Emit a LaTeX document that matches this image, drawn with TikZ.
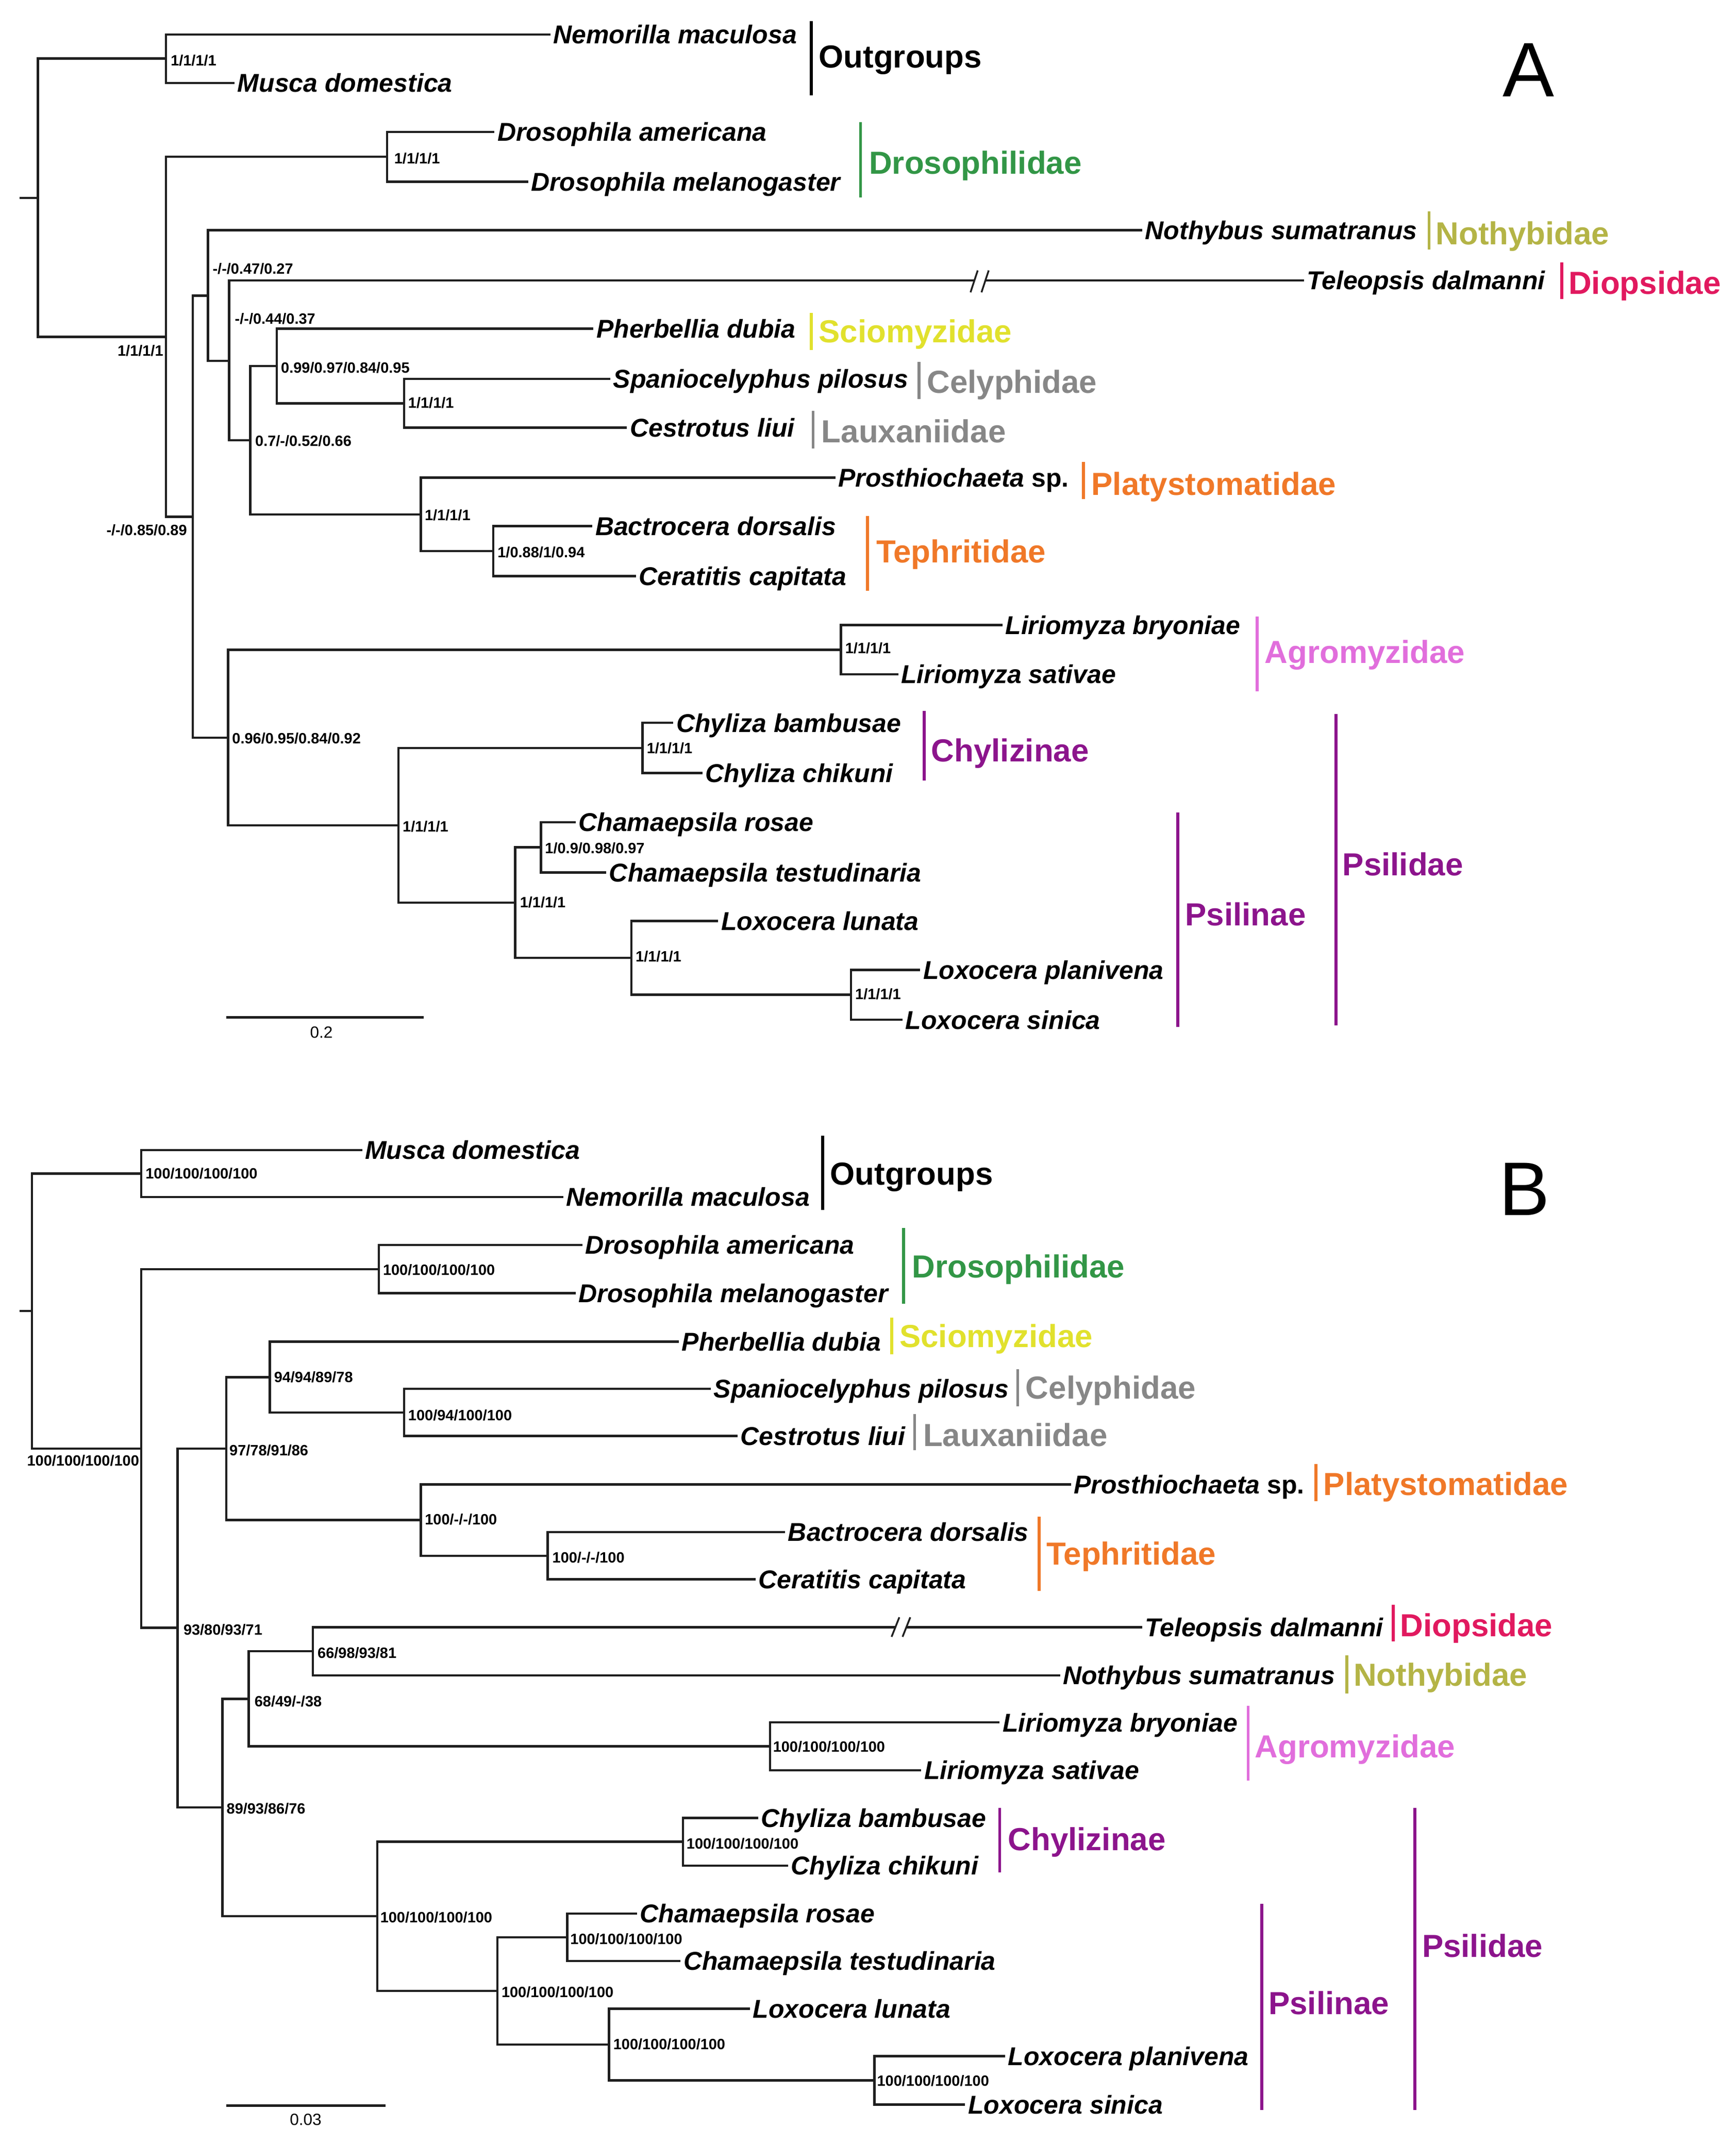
\documentclass[tikz,border=0pt]{standalone}
\usepackage{fontspec}
\setmainfont{Liberation Sans}
\definecolor{treecol}{RGB}{30,30,30}
\definecolor{grn}{RGB}{50,150,70}
\definecolor{oli}{RGB}{180,180,70}
\definecolor{crim}{RGB}{225,25,95}
\definecolor{yel}{RGB}{225,225,45}
\definecolor{gry}{RGB}{135,135,135}
\definecolor{org}{RGB}{240,120,40}
\definecolor{orch}{RGB}{225,110,220}
\definecolor{pur}{RGB}{140,20,140}
\newcommand{\mktip}[4]{\coordinate (#1) at (#2,#3); \node[taxon] (#1-l) at ([shift={(2,6.8)}]#1) {#4};}
\newcommand{\mklab}[4]{\node[nlab] (#1) at (#2,#3) {#4};}
\newcommand{\mkgrp}[8]{\coordinate (#1-a) at (#3,#4); \coordinate (#1-b) at (#3,#5); \draw[gbar,draw=#2] (#1-a) -- (#1-b); \node[grp,text=#2] (#1) at (#6,#7) {#8};}
\begin{document}
\begin{tikzpicture}[x=1pt,y=-1pt,
  br/.style={line width=1.7pt, draw=treecol},
  brk/.style={line width=1.3pt, draw=treecol},
  gbar/.style={line width=2.2pt},
  taxon/.style={anchor=base west, inner sep=0pt, font=\fontsize{19}{19}\selectfont\bfseries\itshape},
  nlab/.style={anchor=base west, inner sep=0pt, yshift=-3.9pt, font=\fontsize{11}{11}\selectfont\bfseries},
  grp/.style={anchor=base west, inner sep=0pt, yshift=-8.4pt, font=\fontsize{23.5}{23.5}\selectfont\bfseries},
  slab/.style={inner sep=0pt, font=\fontsize{12}{12}\selectfont}]
\fill[white] (0,0) rectangle (1280,1579.9);
\useasboundingbox (0,0) rectangle (1280,1579.9);

%% ================= PANEL A =================
\coordinate (rA0) at (14.4,145.9);
\coordinate (rA) at (28,145.9);
\coordinate (aOut) at (122.4,43.2);
\coordinate (aIng) at (122.4,248.4);
\coordinate (aDro) at (285.5,115.6);
\coordinate (a1) at (142.2,381);
\coordinate (a2) at (153.3,218);
\coordinate (a3) at (169,266);
\coordinate (a4) at (184.6,324.6);
\coordinate (a5) at (204,269.8);
\coordinate (a6) at (297.9,297.3);
\coordinate (a7) at (310.3,379.3);
\coordinate (a8) at (363.8,406.3);
\coordinate (a9) at (168.1,543.9);
\coordinate (aAgr) at (620.1,479);
\coordinate (aPs) at (293.8,608.5);
\coordinate (aChy) at (473.8,551.4);
\coordinate (aPs2) at (379.9,665.4);
\coordinate (aCha) at (398.8,624.7);
\coordinate (aLox) at (465.6,706.2);
\coordinate (aLox2) at (627.5,733.4);
\coordinate (brkA1) at (718.2,206.7);
\coordinate (brkA2) at (726.4,206.7);

\mktip{tNem}{405.8}{25.4}{Nemorilla maculosa}
\mktip{tMus}{173}{61.1}{Musca domestica}
\mktip{tDam}{364.6}{97.2}{Drosophila americana}
\mktip{tDme}{389.4}{134}{Drosophila melanogaster}
\mktip{tNot}{842.2}{169.7}{Nothybus sumatranus}
\mktip{tTel}{961.5}{206.7}{Teleopsis dalmanni}
\mktip{tPhe}{437.6}{242.3}{Pherbellia dubia}
\mktip{tSpa}{450}{279.3}{Spaniocelyphus pilosus}
\mktip{tCes}{462.3}{315.3}{Cestrotus liui}
\mktip{tPro}{616}{352.1}{Prosthiochaeta \textup{sp.}}
\mktip{tBac}{436.8}{387.9}{Bactrocera dorsalis}
\mktip{tCer}{468.9}{424.7}{Ceratitis capitata}
\mktip{tLbr}{739.1}{460.8}{Liriomyza bryoniae}
\mktip{tLsa}{662.3}{497.1}{Liriomyza sativae}
\mktip{tCba}{496.5}{532.9}{Chyliza bambusae}
\mktip{tCch}{518}{569.8}{Chyliza chikuni}
\mktip{tCro}{424.4}{606.2}{Chamaepsila rosae}
\mktip{tCte}{447}{643.2}{Chamaepsila testudinaria}
\mktip{tLlu}{529.5}{678.9}{Loxocera lunata}
\mktip{tLpl}{678.5}{715}{Loxocera planivena}
\mktip{tLsi}{665.5}{751.8}{Loxocera sinica}

\draw[br] (rA0) -- (rA);
\draw[br] (rA) |- (aOut);
\draw[br] (rA) |- (aIng);
\draw[br] (aOut) |- (tNem);
\draw[br] (aOut) |- (tMus);
\draw[br] (aIng) |- (aDro);
\draw[br] (aIng) |- (a1);
\draw[br] (aDro) |- (tDam);
\draw[br] (aDro) |- (tDme);
\draw[br] (a1) |- (a2);
\draw[br] (a1) |- (a9);
\draw[br] (a2) |- (tNot);
\draw[br] (a2) |- (a3);
\draw[br] (a3) |- (brkA1);
\draw[br] (brkA2) -- (tTel);
\draw[brk] (715.6,215.5) -- (720.9,199.4);
\draw[brk] (723.7,215.5) -- (729,199.4);
\draw[br] (a3) |- (a4);
\draw[br] (a4) |- (a5);
\draw[br] (a4) |- (a7);
\draw[br] (a5) |- (tPhe);
\draw[br] (a5) |- (a6);
\draw[br] (a6) |- (tSpa);
\draw[br] (a6) |- (tCes);
\draw[br] (a7) |- (tPro);
\draw[br] (a7) |- (a8);
\draw[br] (a8) |- (tBac);
\draw[br] (a8) |- (tCer);
\draw[br] (a9) |- (aAgr);
\draw[br] (a9) |- (aPs);
\draw[br] (aAgr) |- (tLbr);
\draw[br] (aAgr) |- (tLsa);
\draw[br] (aPs) |- (aChy);
\draw[br] (aPs) |- (aPs2);
\draw[br] (aChy) |- (tCba);
\draw[br] (aChy) |- (tCch);
\draw[br] (aPs2) |- (aCha);
\draw[br] (aPs2) |- (aLox);
\draw[br] (aCha) |- (tCro);
\draw[br] (aCha) |- (tCte);
\draw[br] (aLox) |- (tLlu);
\draw[br] (aLox) |- (aLox2);
\draw[br] (aLox2) |- (tLpl);
\draw[br] (aLox2) |- (tLsi);

\mklab{la1}{125.7}{44.5}{1/1/1/1}
\mklab{la2}{86.5}{258.7}{1/1/1/1}
\mklab{la3}{290.5}{116.7}{1/1/1/1}
\mklab{la4}{156.6}{198}{-/-/0.47/0.27}
\mklab{la5}{173}{235}{-/-/0.44/0.37}
\mklab{la6}{207}{271}{0.99/0.97/0.84/0.95}
\mklab{la7}{300.8}{297.1}{1/1/1/1}
\mklab{la8}{188}{325}{0.7/-/0.52/0.66}
\mklab{la9}{313}{379.7}{1/1/1/1}
\mklab{la10}{366.7}{407.2}{1/0.88/1/0.94}
\mklab{la11}{78.3}{390.8}{-/-/0.85/0.89}
\mklab{la12}{623}{478}{1/1/1/1}
\mklab{la13}{171}{544.3}{0.96/0.95/0.84/0.92}
\mklab{la14}{296.7}{609.3}{1/1/1/1}
\mklab{la15}{476.7}{551.6}{1/1/1/1}
\mklab{la16}{383.2}{665.3}{1/1/1/1}
\mklab{la17}{401.7}{625.1}{1/0.9/0.98/0.97}
\mklab{la18}{468.5}{705.2}{1/1/1/1}
\mklab{la19}{630.4}{733}{1/1/1/1}

\mkgrp{gA1}{black}{598.3}{15.6}{70.4}{603.6}{41.6}{Outgroups}
\mkgrp{gA2}{grn}{634.5}{90}{145.6}{640.7}{120}{Drosophilidae}
\mkgrp{gA3}{oli}{1053.7}{156}{184}{1058.5}{172}{Nothybidae}
\mkgrp{gA4}{crim}{1151.6}{193.4}{220.6}{1156.4}{208.5}{Diopsidae}
\mkgrp{gA5}{yel}{598.3}{230.7}{257.9}{603.6}{244.3}{Sciomyzidae}
\mkgrp{gA6}{gry}{677.6}{266.9}{294}{683.3}{281.3}{Celyphidae}
\mkgrp{gA7}{gry}{599.5}{303}{330.5}{605.6}{317.8}{Lauxaniidae}
\mkgrp{gA8}{org}{798.9}{340.7}{367.8}{804.6}{356.5}{Platystomatidae}
\mkgrp{gA9}{org}{639.5}{380.6}{435.7}{646}{406.5}{Tephritidae}
\mkgrp{gA10}{orch}{927.1}{454.4}{509.5}{932.4}{480.7}{Agromyzidae}
\mkgrp{gA11}{pur}{681.3}{524}{575.4}{686.5}{553}{Chylizinae}
\mkgrp{gA12}{pur}{868.5}{599.1}{756.9}{873.8}{673.8}{Psilinae}
\mkgrp{gA13}{pur}{985}{526.5}{756}{989.8}{637.3}{Psilidae}

\coordinate (sA1) at (166.9,750.1);
\coordinate (sA2) at (312.3,750.1);
\draw[br] (sA1) -- (sA2);
\node[slab] (sAl) at (237,761.1) {0.2};
\node[anchor=base west, inner sep=0pt, font=\fontsize{57}{57}\selectfont] (letA) at (1108,71.3) {A};

%% ================= PANEL B =================
\coordinate (rB0) at (14.4,966.4);
\coordinate (rB) at (23.5,966.4);
\coordinate (bOut) at (104.2,865.2);
\coordinate (bIng) at (104.2,1067.9);
\coordinate (bDro) at (279.4,935.6);
\coordinate (b1) at (131,1200.1);
\coordinate (b2) at (166.9,1067.9);
\coordinate (b3) at (199,1015.3);
\coordinate (b4) at (297.9,1041.3);
\coordinate (b5) at (310.3,1120.6);
\coordinate (b6) at (403.8,1146.9);
\coordinate (b7) at (164,1332.5);
\coordinate (b8) at (183.4,1252.5);
\coordinate (b9) at (230.7,1217.4);
\coordinate (bAgr) at (567.8,1287.5);
\coordinate (bPs) at (278.1,1412.7);
\coordinate (bChy) at (503.5,1357.8);
\coordinate (bPs2) at (366.7,1467.7);
\coordinate (bCha) at (418.2,1428.2);
\coordinate (bLox) at (449.1,1507.3);
\coordinate (bLox2) at (644.8,1533.7);
\coordinate (brkB1) at (660.2,1199.6);
\coordinate (brkB2) at (668.2,1199.6);

\mktip{uMus}{267}{847.9}{Musca domestica}
\mktip{uNem}{415.3}{882.5}{Nemorilla maculosa}
\mktip{uDam}{429.3}{917.8}{Drosophila americana}
\mktip{uDme}{424.4}{953.4}{Drosophila melanogaster}
\mktip{uPhe}{500.6}{989.1}{Pherbellia dubia}
\mktip{uSpa}{524.1}{1023.9}{Spaniocelyphus pilosus}
\mktip{uCes}{543.9}{1058.6}{Cestrotus liui}
\mktip{uPro}{789.6}{1094.4}{Prosthiochaeta \textup{sp.}}
\mktip{uBac}{578.9}{1129.5}{Bactrocera dorsalis}
\mktip{uCer}{557.1}{1164.3}{Ceratitis capitata}
\mktip{uTel}{842.2}{1199.6}{Teleopsis dalmanni}
\mktip{uNot}{781.6}{1235.2}{Nothybus sumatranus}
\mktip{uLbr}{737.1}{1269.8}{Liriomyza bryoniae}
\mktip{uLsa}{679.3}{1305.1}{Liriomyza sativae}
\mktip{uCba}{559.1}{1340.2}{Chyliza bambusae}
\mktip{uCch}{581}{1375.4}{Chyliza chikuni}
\mktip{uCro}{469.7}{1410.7}{Chamaepsila rosae}
\mktip{uCte}{501.8}{1445.7}{Chamaepsila testudinaria}
\mktip{uLlu}{553}{1480.8}{Loxocera lunata}
\mktip{uLpl}{741.1}{1515.8}{Loxocera planivena}
\mktip{uLsi}{711.6}{1551.6}{Loxocera sinica}

\draw[br] (rB0) -- (rB);
\draw[br] (rB) |- (bOut);
\draw[br] (rB) |- (bIng);
\draw[br] (bOut) |- (uMus);
\draw[br] (bOut) |- (uNem);
\draw[br] (bIng) |- (bDro);
\draw[br] (bIng) |- (b1);
\draw[br] (bDro) |- (uDam);
\draw[br] (bDro) |- (uDme);
\draw[br] (b1) |- (b2);
\draw[br] (b1) |- (b7);
\draw[br] (b2) |- (b3);
\draw[br] (b2) |- (b5);
\draw[br] (b3) |- (uPhe);
\draw[br] (b3) |- (b4);
\draw[br] (b4) |- (uSpa);
\draw[br] (b4) |- (uCes);
\draw[br] (b5) |- (uPro);
\draw[br] (b5) |- (b6);
\draw[br] (b6) |- (uBac);
\draw[br] (b6) |- (uCer);
\draw[br] (b7) |- (b8);
\draw[br] (b7) |- (bPs);
\draw[br] (b8) |- (b9);
\draw[br] (b8) |- (bAgr);
\draw[br] (b9) |- (brkB1);
\draw[br] (brkB2) -- (uTel);
\draw[brk] (657.4,1206.7) -- (663.1,1192.3);
\draw[brk] (665.5,1206.7) -- (671.2,1192.3);
\draw[br] (b9) |- (uNot);
\draw[br] (bAgr) |- (uLbr);
\draw[br] (bAgr) |- (uLsa);
\draw[br] (bPs) |- (bChy);
\draw[br] (bPs) |- (bPs2);
\draw[br] (bChy) |- (uCba);
\draw[br] (bChy) |- (uCch);
\draw[br] (bPs2) |- (bCha);
\draw[br] (bPs2) |- (bLox);
\draw[br] (bCha) |- (uCro);
\draw[br] (bCha) |- (uCte);
\draw[br] (bLox) |- (uLlu);
\draw[br] (bLox) |- (bLox2);
\draw[br] (bLox2) |- (uLpl);
\draw[br] (bLox2) |- (uLsi);

\mklab{lb1}{107.1}{865.2}{100/100/100/100}
\mklab{lb2}{19.8}{1076.9}{100/100/100/100}
\mklab{lb3}{282.2}{936}{100/100/100/100}
\mklab{lb4}{201.9}{1015.4}{94/94/89/78}
\mklab{lb5}{300.8}{1043.4}{100/94/100/100}
\mklab{lb6}{169}{1069}{97/78/91/86}
\mklab{lb7}{313.1}{1120.2}{100/-/-/100}
\mklab{lb8}{407.1}{1148.2}{100/-/-/100}
\mklab{lb9}{135.1}{1201.6}{93/80/93/71}
\mklab{lb10}{234}{1218.6}{66/98/93/81}
\mklab{lb11}{187.5}{1254.2}{68/49/-/38}
\mklab{lb12}{569.8}{1287.8}{100/100/100/100}
\mklab{lb13}{166.9}{1333.5}{89/93/86/76}
\mklab{lb14}{506}{1359}{100/100/100/100}
\mklab{lb15}{280.2}{1413.4}{100/100/100/100}
\mklab{lb16}{420.3}{1429.3}{100/100/100/100}
\mklab{lb17}{369.6}{1468.5}{100/100/100/100}
\mklab{lb18}{452}{1507.1}{100/100/100/100}
\mklab{lb19}{646.5}{1534.1}{100/100/100/100}

\mkgrp{gB1}{black}{606.5}{837.2}{891.9}{611.9}{865.2}{Outgroups}
\mkgrp{gB2}{grn}{666.3}{905.1}{961}{672.4}{933.5}{Drosophilidae}
\mkgrp{gB3}{yel}{657.4}{971.3}{998.4}{663.1}{984.8}{Sciomyzidae}
\mkgrp{gB4}{gry}{750.4}{1009.4}{1036.6}{756.1}{1023}{Celyphidae}
\mkgrp{gB5}{gry}{674.4}{1042.5}{1069}{680.5}{1057.8}{Lauxaniidae}
\mkgrp{gB6}{org}{970.4}{1079.5}{1106.6}{975.7}{1093.9}{Platystomatidae}
\mkgrp{gB7}{org}{766.2}{1118.2}{1172.8}{771.5}{1145.3}{Tephritidae}
\mkgrp{gB8}{crim}{1027.4}{1183}{1210.1}{1032.3}{1198}{Diopsidae}
\mkgrp{gB9}{oli}{993.1}{1220.3}{1248.3}{997.9}{1234.5}{Nothybidae}
\mkgrp{gB10}{orch}{920.3}{1257.6}{1312.8}{925.1}{1287.3}{Agromyzidae}
\mkgrp{gB11}{pur}{737.1}{1332.7}{1380.5}{743.1}{1355.8}{Chylizinae}
\mkgrp{gB12}{pur}{930.4}{1403.5}{1555.6}{935.2}{1476.5}{Psilinae}
\mkgrp{gB13}{pur}{1043.2}{1332.7}{1555.6}{1048.4}{1434.6}{Psilidae}

\coordinate (sB1) at (166.9,1552.4);
\coordinate (sB2) at (284.3,1552.4);
\draw[br] (sB1) -- (sB2);
\node[slab] (sBl) at (225.4,1562.8) {0.03};
\node[anchor=base west, inner sep=0pt, font=\fontsize{56}{56}\selectfont] (letB) at (1105,895.8) {B};
\end{tikzpicture}
\end{document}
